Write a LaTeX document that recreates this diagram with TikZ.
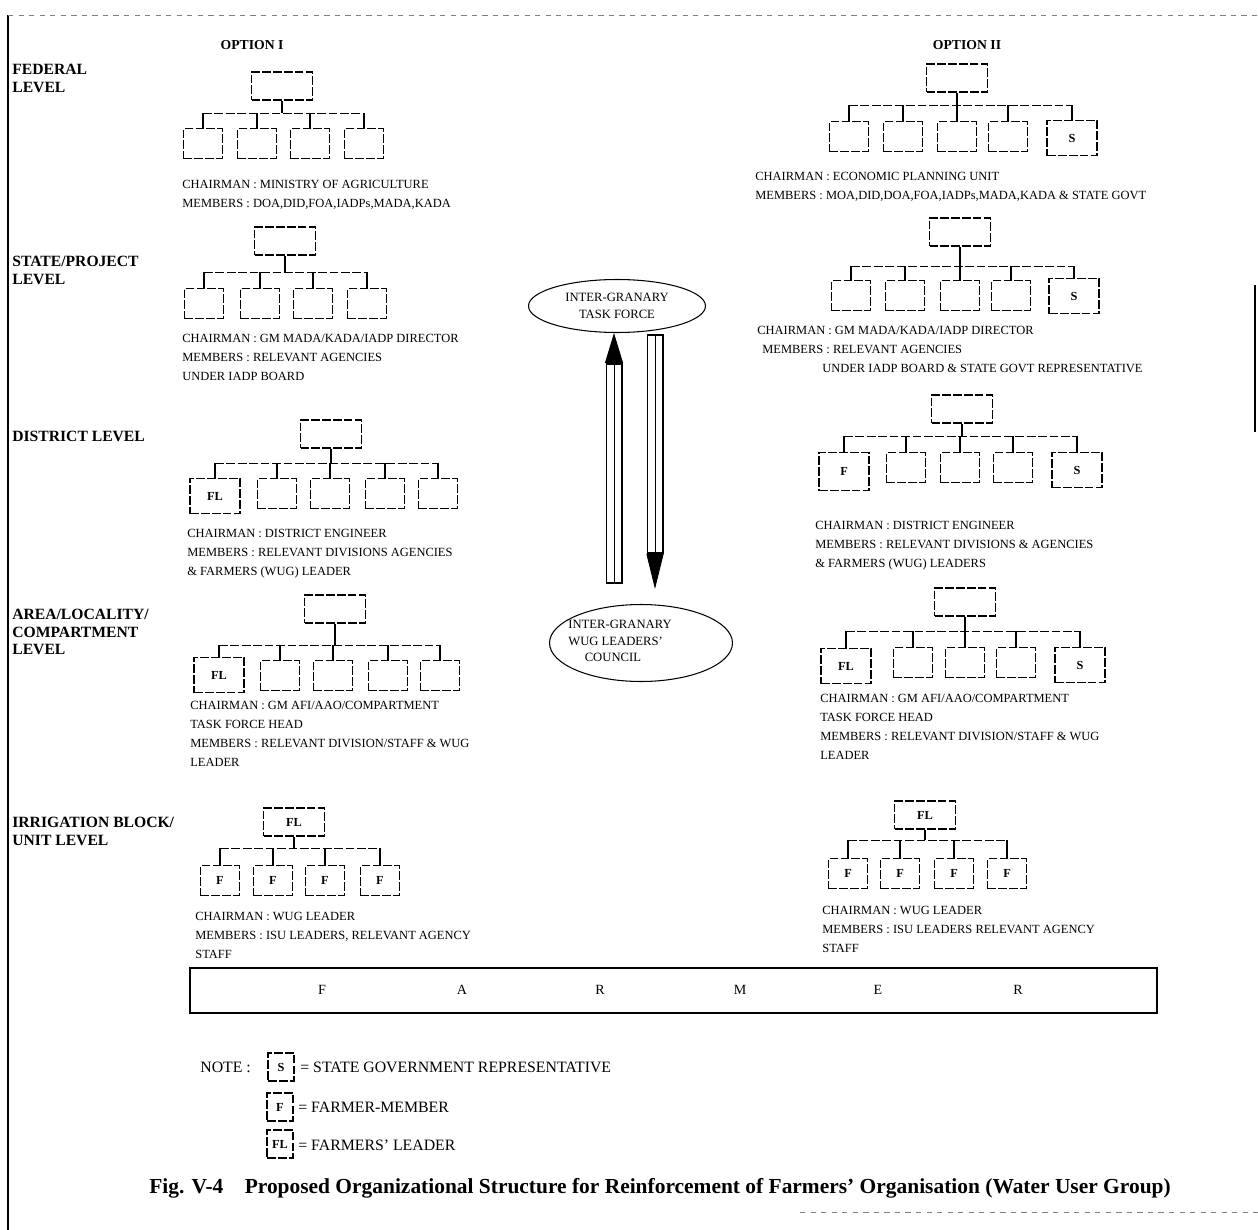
\documentclass[tikz,border=0pt]{standalone}
\usepackage{fontspec}
\setmainfont{Liberation Serif}
\usetikzlibrary{arrows.meta, shapes.geometric}

\tikzset{
  orgbox/.style={draw, dash pattern=on 5pt off 1.2pt, line width=0.65pt, inner sep=0pt,
    minimum width=0.78cm, minimum height=0.6cm, font=\bfseries\fontsize{7}{8}\selectfont},
  headbox/.style={orgbox, minimum width=1.22cm, minimum height=0.56cm},
  keybox/.style={orgbox, minimum width=1.0cm, minimum height=0.7cm},
  legendbox/.style={orgbox, minimum width=0.52cm, minimum height=0.56cm},
  busline/.style={line width=0.5pt, dash pattern=on 5pt off 1.5pt},
  dropline/.style={line width=0.9pt},
  levellabel/.style={anchor=north west, align=left, inner sep=0pt, font=\bfseries\fontsize{8.9}{10}\selectfont},
  optionhead/.style={inner sep=0pt, font=\bfseries\fontsize{7.8}{9}\selectfont},
  memberlist/.style={anchor=north west, align=left, inner sep=0pt, font=\fontsize{7.1}{10.8}\selectfont},
  granary/.style={ellipse, draw, line width=0.6pt, inner sep=0pt, align=center, font=\fontsize{7.2}{9.5}\selectfont},
  shaftouter/.style={line width=0.34cm},
  shaftinner/.style={line width=0.29cm, white},
  headline/.style={line width=0.5pt},
  barletter/.style={inner sep=0pt, font=\fontsize{8}{9}\selectfont},
  notetext/.style={inner sep=0pt, font=\fontsize{9}{10}\selectfont},
  figtitle/.style={inner sep=0pt, font=\bfseries\fontsize{12.2}{14}\selectfont}
}

\begin{document}
\begin{tikzpicture}[x=0.02cm, y=-0.02cm]
\useasboundingbox (0,0) rectangle (1258,1230);

% frame of the scanned page
\draw[line width=1.4pt] (8,15) -- (8,1230);
\draw[gray, dashed, line width=0.4pt] (8,15) -- (1258,15);
\draw[line width=0.8pt] (1255,285) -- (1255,432);
\draw[gray, dashed, line width=0.4pt] (800,1212) -- (1258,1212);

% level labels
\node[levellabel] (lvfed) at (12,64) {FEDERAL\\LEVEL};
\node[levellabel] (lvstate) at (12,256) {STATE/PROJECT\\LEVEL};
\node[levellabel] (lvdist) at (12,431) {DISTRICT LEVEL};
\node[levellabel] (lvarea) at (12,609) {AREA/LOCALITY/\\COMPARTMENT\\LEVEL};
\node[levellabel] (lvunit) at (12,817) {IRRIGATION BLOCK/\\UNIT LEVEL};

\node[optionhead] (optI) at (252,45) {OPTION I};
\node[optionhead] (optII) at (967,45) {OPTION II};

% ---------------- option I ----------------
% federal
\node[headbox] (fedI) at (282,86) {};
\foreach \x [count=\i] in {203,257,310,364} \node[orgbox, anchor=north] (fedI\i) at (\x,128) {};
\coordinate (fedIbus) at (0,113);
\draw[busline] (fedI1.north |- fedIbus) -- (fedI4.north |- fedIbus);
\draw[dropline] (fedI.south) -- (fedI.south |- fedIbus);
\foreach \i in {1,...,4} \draw[dropline] (fedI\i.north |- fedIbus) -- (fedI\i.north);
\node[memberlist] (fedItext) at (182,180) {CHAIRMAN : MINISTRY OF AGRICULTURE\\MEMBERS : DOA,DID,FOA,IADPs,MADA,KADA};

% state / project
\node[headbox] (stateI) at (285,241) {};
\foreach \x [count=\i] in {204,260,313,367} \node[orgbox, anchor=north] (stateI\i) at (\x,288) {};
\coordinate (stateIbus) at (0,272);
\draw[busline] (stateI1.north |- stateIbus) -- (stateI4.north |- stateIbus);
\draw[dropline] (stateI.south) -- (stateI.south |- stateIbus);
\foreach \i in {1,...,4} \draw[dropline] (stateI\i.north |- stateIbus) -- (stateI\i.north);
\node[memberlist] (stateItext) at (182,334) {CHAIRMAN : GM MADA/KADA/IADP DIRECTOR\\MEMBERS : RELEVANT AGENCIES\\UNDER IADP BOARD};

% district
\node[headbox] (distI) at (331,434) {};
\node[keybox, anchor=north] (distI1) at (215,478) {FL};
\foreach \x [count=\i from 2] in {277,330,385,438} \node[orgbox, anchor=north] (distI\i) at (\x,478) {};
\coordinate (distIbus) at (0,463);
\draw[busline] (distI1.north |- distIbus) -- (distI5.north |- distIbus);
\draw[dropline] (distI.south) -- (distI.south |- distIbus);
\foreach \i in {1,...,5} \draw[dropline] (distI\i.north |- distIbus) -- (distI\i.north);
\node[memberlist] (distItext) at (187,529) {CHAIRMAN : DISTRICT ENGINEER\\MEMBERS : RELEVANT DIVISIONS AGENCIES\\\& FARMERS (WUG) LEADER};

% area / locality / compartment
\node[headbox] (areaI) at (335,609) {};
\node[keybox, anchor=north] (areaI1) at (219,657) {FL};
\foreach \x [count=\i from 2] in {280,333,388,440} \node[orgbox, anchor=north] (areaI\i) at (\x,660) {};
\coordinate (areaIbus) at (0,645);
\draw[busline] (areaI1.north |- areaIbus) -- (areaI5.north |- areaIbus);
\draw[dropline] (areaI.south) -- (areaI.south |- areaIbus);
\foreach \i in {1,...,5} \draw[dropline] (areaI\i.north |- areaIbus) -- (areaI\i.north);
\node[memberlist] (areaItext) at (190,701) {CHAIRMAN : GM AFI/AAO/COMPARTMENT\\TASK FORCE HEAD\\MEMBERS : RELEVANT DIVISION/STAFF \& WUG\\LEADER};

% irrigation block / unit
\node[headbox] (unitI) at (294,822) {FL};
\foreach \x [count=\i] in {220,273,325,380} \node[orgbox, anchor=north] (unitI\i) at (\x,865) {F};
\coordinate (unitIbus) at (0,848);
\draw[busline] (unitI1.north |- unitIbus) -- (unitI4.north |- unitIbus);
\draw[dropline] (unitI.south) -- (unitI.south |- unitIbus);
\foreach \i in {1,...,4} \draw[dropline] (unitI\i.north |- unitIbus) -- (unitI\i.north);
\node[memberlist] (unitItext) at (195,912) {CHAIRMAN : WUG LEADER\\MEMBERS : ISU LEADERS, RELEVANT AGENCY\\STAFF};

% ---------------- option II ----------------
% federal
\node[headbox] (fedII) at (957,78) {};
\foreach \x [count=\i] in {849,903,957,1008} \node[orgbox, anchor=north] (fedII\i) at (\x,121) {};
\node[keybox, anchor=north] (fedII5) at (1072,120) {S};
\coordinate (fedIIbus) at (0,105);
\draw[busline] (fedII1.north |- fedIIbus) -- (fedII5.north |- fedIIbus);
\draw[dropline] (fedII.south) -- (fedII.south |- fedIIbus);
\foreach \i in {1,...,5} \draw[dropline] (fedII\i.north |- fedIIbus) -- (fedII\i.north);
\node[memberlist] (fedIItext) at (755,172) {CHAIRMAN : ECONOMIC PLANNING UNIT\\MEMBERS : MOA,DID,DOA,FOA,IADPs,MADA,KADA \& STATE GOVT};

% state / project
\node[headbox] (stateII) at (960,232) {};
\foreach \x [count=\i] in {851,905,960,1011} \node[orgbox, anchor=north] (stateII\i) at (\x,280) {};
\node[keybox, anchor=north] (stateII5) at (1074,278) {S};
\coordinate (stateIIbus) at (0,266);
\draw[busline] (stateII1.north |- stateIIbus) -- (stateII5.north |- stateIIbus);
\draw[dropline] (stateII.south) -- (stateII.south |- stateIIbus);
\foreach \i in {1,...,5} \draw[dropline] (stateII\i.north |- stateIIbus) -- (stateII\i.north);
\node[memberlist] (stateIItext) at (757,326) {CHAIRMAN : GM MADA/KADA/IADP DIRECTOR\\\hspace*{0.1cm}MEMBERS : RELEVANT AGENCIES\\\hspace*{1.3cm}UNDER IADP BOARD \& STATE GOVT REPRESENTATIVE};

% district
\node[headbox] (distII) at (962,409) {};
\node[keybox, minimum height=0.76cm, anchor=north] (distII1) at (844,452) {F};
\foreach \x [count=\i from 2] in {906,960,1013} \node[orgbox, anchor=north] (distII\i) at (\x,452) {};
\node[keybox, anchor=north] (distII5) at (1077,452) {S};
\coordinate (distIIbus) at (0,436);
\draw[busline] (distII1.north |- distIIbus) -- (distII5.north |- distIIbus);
\draw[dropline] (distII.south) -- (distII.south |- distIIbus);
\foreach \i in {1,...,5} \draw[dropline] (distII\i.north |- distIIbus) -- (distII\i.north);
\node[memberlist] (distIItext) at (815,521) {CHAIRMAN : DISTRICT ENGINEER\\MEMBERS : RELEVANT DIVISIONS \& AGENCIES\\\& FARMERS (WUG) LEADERS};

% area / locality / compartment
\node[headbox] (areaII) at (965,602) {};
\node[keybox, anchor=north] (areaII1) at (846,648) {FL};
\foreach \x [count=\i from 2] in {913,965,1016} \node[orgbox, anchor=north] (areaII\i) at (\x,647) {};
\node[keybox, anchor=north] (areaII5) at (1080,647) {S};
\coordinate (areaIIbus) at (0,631);
\draw[busline] (areaII1.north |- areaIIbus) -- (areaII5.north |- areaIIbus);
\draw[dropline] (areaII.south) -- (areaII.south |- areaIIbus);
\foreach \i in {1,...,5} \draw[dropline] (areaII\i.north |- areaIIbus) -- (areaII\i.north);
\node[memberlist] (areaIItext) at (820,694) {CHAIRMAN : GM AFI/AAO/COMPARTMENT\\TASK FORCE HEAD\\MEMBERS : RELEVANT DIVISION/STAFF \& WUG\\LEADER};

% irrigation block / unit
\node[headbox] (unitII) at (925,815) {FL};
\foreach \x [count=\i] in {848,900,954,1007} \node[orgbox, anchor=north] (unitII\i) at (\x,858) {F};
\coordinate (unitIIbus) at (0,840);
\draw[busline] (unitII1.north |- unitIIbus) -- (unitII4.north |- unitIIbus);
\draw[dropline] (unitII.south) -- (unitII.south |- unitIIbus);
\foreach \i in {1,...,4} \draw[dropline] (unitII\i.north |- unitIIbus) -- (unitII\i.north);
\node[memberlist] (unitIItext) at (822,906) {CHAIRMAN : WUG LEADER\\MEMBERS : ISU LEADERS RELEVANT AGENCY\\STAFF};

% ---------------- inter-granary link ----------------
\node[granary, minimum width=3.54cm, minimum height=1.06cm] (taskforce) at (617,306) {INTER-GRANARY\\TASK FORCE};
\node[granary, minimum width=3.66cm, minimum height=1.54cm] (wugcouncil) at (641,643) {};
\node[inner sep=0pt, align=left, font=\fontsize{7.2}{9.5}\selectfont] (wugtext) at (620,641) {INTER-GRANARY\\WUG LEADERS'\\\hspace*{1.3em}COUNCIL};
\coordinate (upx) at (614,0);
\coordinate (downx) at (655,0);
\draw[shaftouter, shorten <=0.4cm, shorten >=0.6cm] (wugcouncil.north -| upx) -- (taskforce.south -| upx);
\draw[shaftinner, shorten <=0.43cm, shorten >=0.63cm] (wugcouncil.north -| upx) -- (taskforce.south -| upx);
\draw[headline, -{Triangle[width=0.36cm, length=0.6cm]}, shorten <=0.4cm] (wugcouncil.north -| upx) -- (taskforce.south -| upx);
\draw[shaftouter, shorten <=0.02cm, shorten >=1.0cm] (taskforce.south -| downx) -- (wugcouncil.north -| downx);
\draw[shaftinner, shorten <=0.05cm, shorten >=1.03cm] (taskforce.south -| downx) -- (wugcouncil.north -| downx);
\draw[headline, -{Triangle[width=0.34cm, length=0.7cm]}, shorten <=0.02cm, shorten >=0.3cm] (taskforce.south -| downx) -- (wugcouncil.north -| downx);

% ---------------- farmers bar ----------------
\node[draw, line width=0.7pt, inner sep=0pt, minimum width=19.34cm, minimum height=0.9cm] (farmbar) at (673.5,990.5) {};
\foreach \l/\x [count=\i] in {F/322, A/462, R/600, M/740, E/878, R/1018} \node[barletter] (barletter\i) at (\x,990) {\l};

% ---------------- legend ----------------
\node[notetext, anchor=west] (notehead) at (200,1067) {NOTE :};
\node[legendbox] (keyS) at (281,1067) {S};
\node[notetext, anchor=west] (keyStext) at (300,1067) {= STATE GOVERNMENT REPRESENTATIVE};
\node[legendbox] (keyF) at (280,1107) {F};
\node[notetext, anchor=west] (keyFtext) at (298,1107) {= FARMER-MEMBER};
\node[legendbox] (keyFL) at (280,1144) {FL};
\node[notetext, anchor=west] (keyFLtext) at (298,1145) {= FARMERS' LEADER};

\node[figtitle] (figcaption) at (660,1188) {Fig. V-4\quad Proposed Organizational Structure for Reinforcement of Farmers' Organisation (Water User Group)};
\end{tikzpicture}
\end{document}
